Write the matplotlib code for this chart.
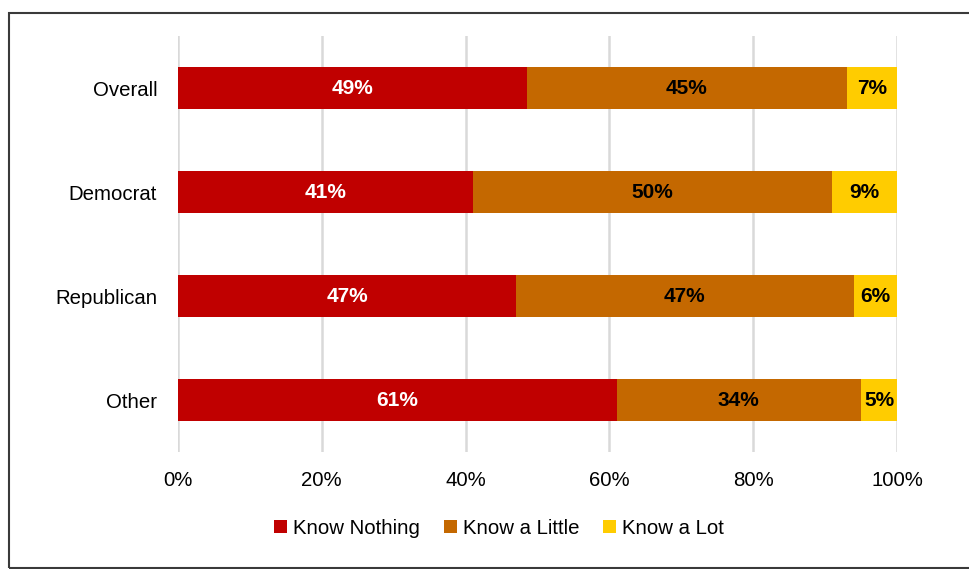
import matplotlib
matplotlib.use("Agg")
import matplotlib.pyplot as plt
from matplotlib.patches import Rectangle
from matplotlib.ticker import FuncFormatter
import numpy as np

plt.rcParams['font.family'] = ['Liberation Sans', 'DejaVu Sans']

# Survey groups and responses (percent, as labelled)
groups = ["Overall", "Democrat", "Republican", "Other"]
know_nothing = [49, 41, 47, 61]
know_little = [45, 50, 47, 34]
know_lot = [7, 9, 6, 5]

series_names = ["Know Nothing", "Know a Little", "Know a Lot"]
colors = ["#C00000", "#C46800", "#FFCC00"]
text_colors = ["white", "black", "black"]

W, H = 969, 569
fig = plt.figure(figsize=(W / 100, H / 100), dpi=100)
ax = fig.add_axes([178 / W, 1 - 452 / H, (897 - 178) / W, (452 - 36) / H])

data = np.array([know_nothing, know_little, know_lot], dtype=float)
totals = data.sum(axis=0)
shares = data / totals * 100  # 100% stacked

y = np.arange(len(groups))
left = np.zeros(len(groups))
for vals, shr, name, c, tc in zip(data, shares, series_names, colors, text_colors):
    ax.barh(y, shr, left=left, height=0.4, color=c, label=name, zorder=3)
    for yi, l, s, v in zip(y, left, shr, vals):
        ax.text(l + s / 2, yi, f"{v:.0f}%", ha="center", va="center",
                color=tc, fontsize=15, fontweight="bold", zorder=4)
    left += shr

ax.set_xlim(0, 100)
ax.set_ylim(len(groups) - 0.5, -0.5)
ax.set_yticks(y)
ax.set_yticklabels(groups, fontsize=14.7)
ax.set_xticks(np.arange(0, 101, 20))
ax.xaxis.set_major_formatter(FuncFormatter(lambda v, p: f"{v:.0f}%"))
ax.tick_params(axis="x", labelsize=14.7, length=0, pad=14)
ax.tick_params(axis="y", length=0, pad=15)
ax.grid(axis="x", color="#D9D9D9", linewidth=1.8, zorder=0)
for s in ax.spines.values():
    s.set_visible(False)

handles, labels = ax.get_legend_handles_labels()
fig.legend(handles, labels, loc="center", bbox_to_anchor=(499 / W, 1 - 528 / H),
           ncol=3, frameon=False, fontsize=14.7, handlelength=0.65, handleheight=0.65,
           handletextpad=0.3, columnspacing=1.15)

# Outer frame
fig.patches.append(Rectangle((8.5 / W, 1 - 568 / H), (980 - 8.5) / W, (568 - 12.5) / H,
                             transform=fig.transFigure, fill=False,
                             edgecolor="#3a3a3a", linewidth=1.5, clip_on=False))

fig.savefig("out.png", dpi=100)
